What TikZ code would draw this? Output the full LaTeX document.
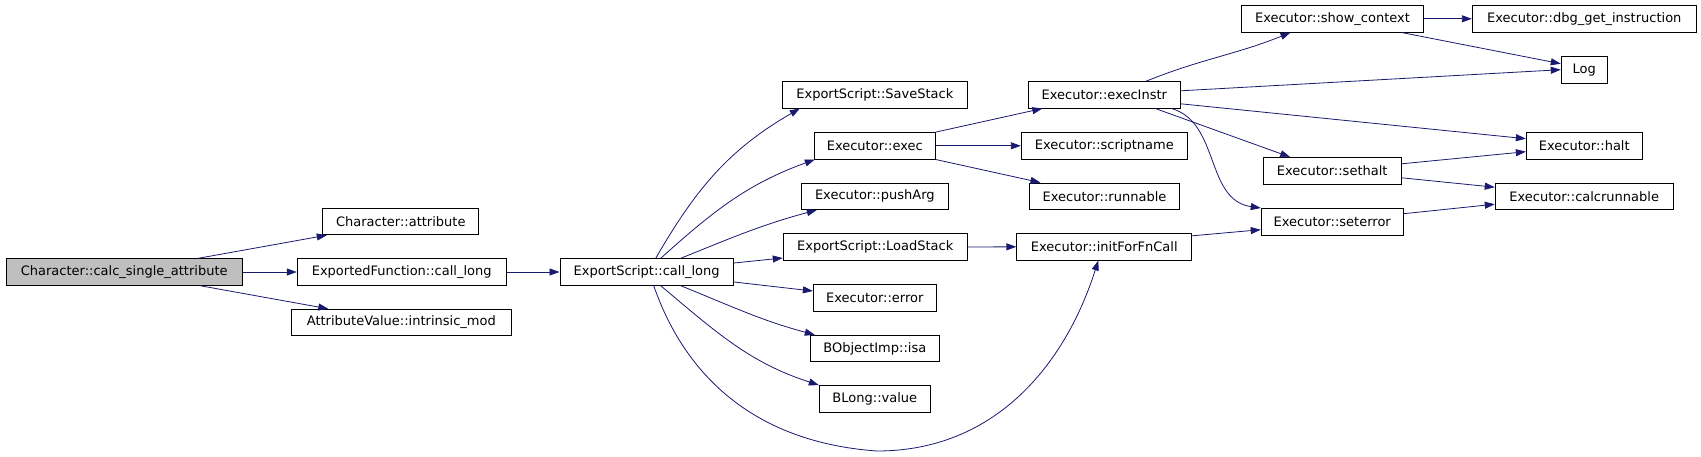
\documentclass[tikz,border=0pt]{standalone}
\usepackage{fontspec}
\setmainfont{DejaVu Sans}
\usetikzlibrary{arrows.meta}
\definecolor{edgeblue}{RGB}{25,25,112}
\definecolor{rootgray}{RGB}{191,191,191}

\begin{document}
\begin{tikzpicture}[
        x=1pt, y=-1pt,
        func/.style={
            rectangle,
            draw=black,
            fill=white,
            line width=0.9pt,
            font=\fontsize{13}{15}\selectfont,
            minimum height=26.5pt,
            inner sep=0pt
        },
        root/.style={
            func,
            fill=rootgray
        },
        call/.style={-{Triangle[length=10pt,width=7pt]}, draw=edgeblue, line width=0.8pt}
    ]
        \useasboundingbox (0,0) rectangle (1701,456);

        % Function Nodes
        \node[root, minimum width=236pt] (calc) at (124.2,272) {Character::calc\_single\_attribute};

        \node[func, minimum width=156pt] (attr) at (400.8,221.5) {Character::attribute};
        \node[func, minimum width=209pt] (expf) at (401.7,272) {ExportedFunction::call\_long};
        \node[func, minimum width=220pt] (intr) at (401.3,322.5) {AttributeValue::intrinsic\_mod};

        \node[func, minimum width=173.5pt] (cl) at (646.7,272) {ExportScript::call\_long};

        \node[func, minimum width=185pt] (save) at (874.8,94.8) {ExportScript::SaveStack};
        \node[func, minimum width=121pt] (exec) at (874.8,145.8) {Executor::exec};
        \node[func, minimum width=147pt] (push) at (874.8,196.3) {Executor::pushArg};
        \node[func, minimum width=184pt] (load) at (875.2,247) {ExportScript::LoadStack};
        \node[func, minimum width=123pt] (err) at (874.8,298) {Executor::error};
        \node[func, minimum width=129pt] (isa) at (874.8,348.5) {BObjectImp::isa};
        \node[func, minimum width=111pt] (val) at (874.8,398.8) {BLong::value};

        \node[func, minimum width=152pt] (instr) at (1104.3,94.8) {Executor::execInstr};
        \node[func, minimum width=166pt] (sname) at (1104.3,145.8) {Executor::scriptname};
        \node[func, minimum width=150pt] (runn) at (1104.5,196.3) {Executor::runnable};
        \node[func, minimum width=175pt] (init) at (1104.3,246.8) {Executor::initForFnCall};

        \node[func, minimum width=182pt] (show) at (1332.5,18.8) {Executor::show\_context};
        \node[func, minimum width=138pt] (sethalt) at (1332.2,170.8) {Executor::sethalt};
        \node[func, minimum width=142pt] (seterr) at (1332.2,221.7) {Executor::seterror};

        \node[func, minimum width=224pt] (dbg) at (1584.3,18.8) {Executor::dbg\_get\_instruction};
        \node[func, minimum width=46pt] (log) at (1584.2,69.7) {Log};
        \node[func, minimum width=116pt] (halt) at (1584.3,145.7) {Executor::halt};
        \node[func, minimum width=178pt] (calcr) at (1584.2,196.2) {Executor::calcrunnable};

        % Call lines
        \draw[call] ([xshift=74pt]calc.north) -- ([xshift=-74pt]attr.south);
        \draw[call] (calc.east) -- (expf.west);
        \draw[call] ([xshift=76pt]calc.south) -- ([xshift=-73pt]intr.north);
        \draw[call] (expf.east) -- (cl.west);

        \draw[call] ([xshift=9pt]cl.north) to[out=60, in=-150] ([xshift=-75pt]save.south);
        \draw[call] ([xshift=14pt]cl.north) to[out=42, in=-160] ([xshift=-60pt]exec.south);
        \draw[call] ([xshift=34pt]cl.north) to[out=22, in=-165] ([xshift=-58pt]push.south);
        \draw[call] ([yshift=9pt]cl.east) -- ([yshift=-11pt]load.west);
        \draw[call] ([yshift=-10pt]cl.east) -- ([yshift=7pt]err.west);
        \draw[call] ([xshift=34pt]cl.south) to[out=-22, in=165] ([xshift=-60pt]isa.north);
        \draw[call] ([xshift=14pt]cl.south) to[out=-40, in=162] ([xshift=-56pt]val.north);
        \draw[call] ([xshift=7pt]cl.south) .. controls (672,338) and (722,440) .. (877,451)
            .. controls (995,451) and (1065,365) .. ([xshift=-6pt]init.south);

        \draw[call] (exec.north east) -- ([xshift=-62pt]instr.south);
        \draw[call] (exec.east) -- (sname.west);
        \draw[call] (exec.south east) -- ([xshift=-64pt]runn.north);
        \draw[call] (load.east) -- (init.west);

        \draw[call] ([xshift=42pt]instr.north) to[out=22, in=-158] ([xshift=-42pt]show.south);
        \draw[call] ([yshift=4pt]instr.east) -- (log.west);
        \draw[call] ([yshift=-9pt]instr.east) -- ([yshift=7pt]halt.west);
        \draw[call] ([xshift=51pt]instr.south) -- ([xshift=-42pt]sethalt.north);
        \draw[call] ([xshift=67pt]instr.south) .. controls (1220,122) and (1205,200) .. (seterr.north west);

        \draw[call] (show.east) -- (dbg.west);
        \draw[call] ([xshift=69pt]show.south) -- ([yshift=6pt]log.west);
        \draw[call] ([yshift=7pt]sethalt.east) -- ([yshift=-6pt]halt.west);
        \draw[call] ([yshift=-7pt]sethalt.east) -- ([yshift=9pt]calcr.west);
        \draw[call] ([yshift=8pt]seterr.east) -- ([yshift=-8pt]calcr.west);
        \draw[call] ([yshift=11pt]init.east) -- ([yshift=-8pt]seterr.west);

    \end{tikzpicture}
\end{document}
